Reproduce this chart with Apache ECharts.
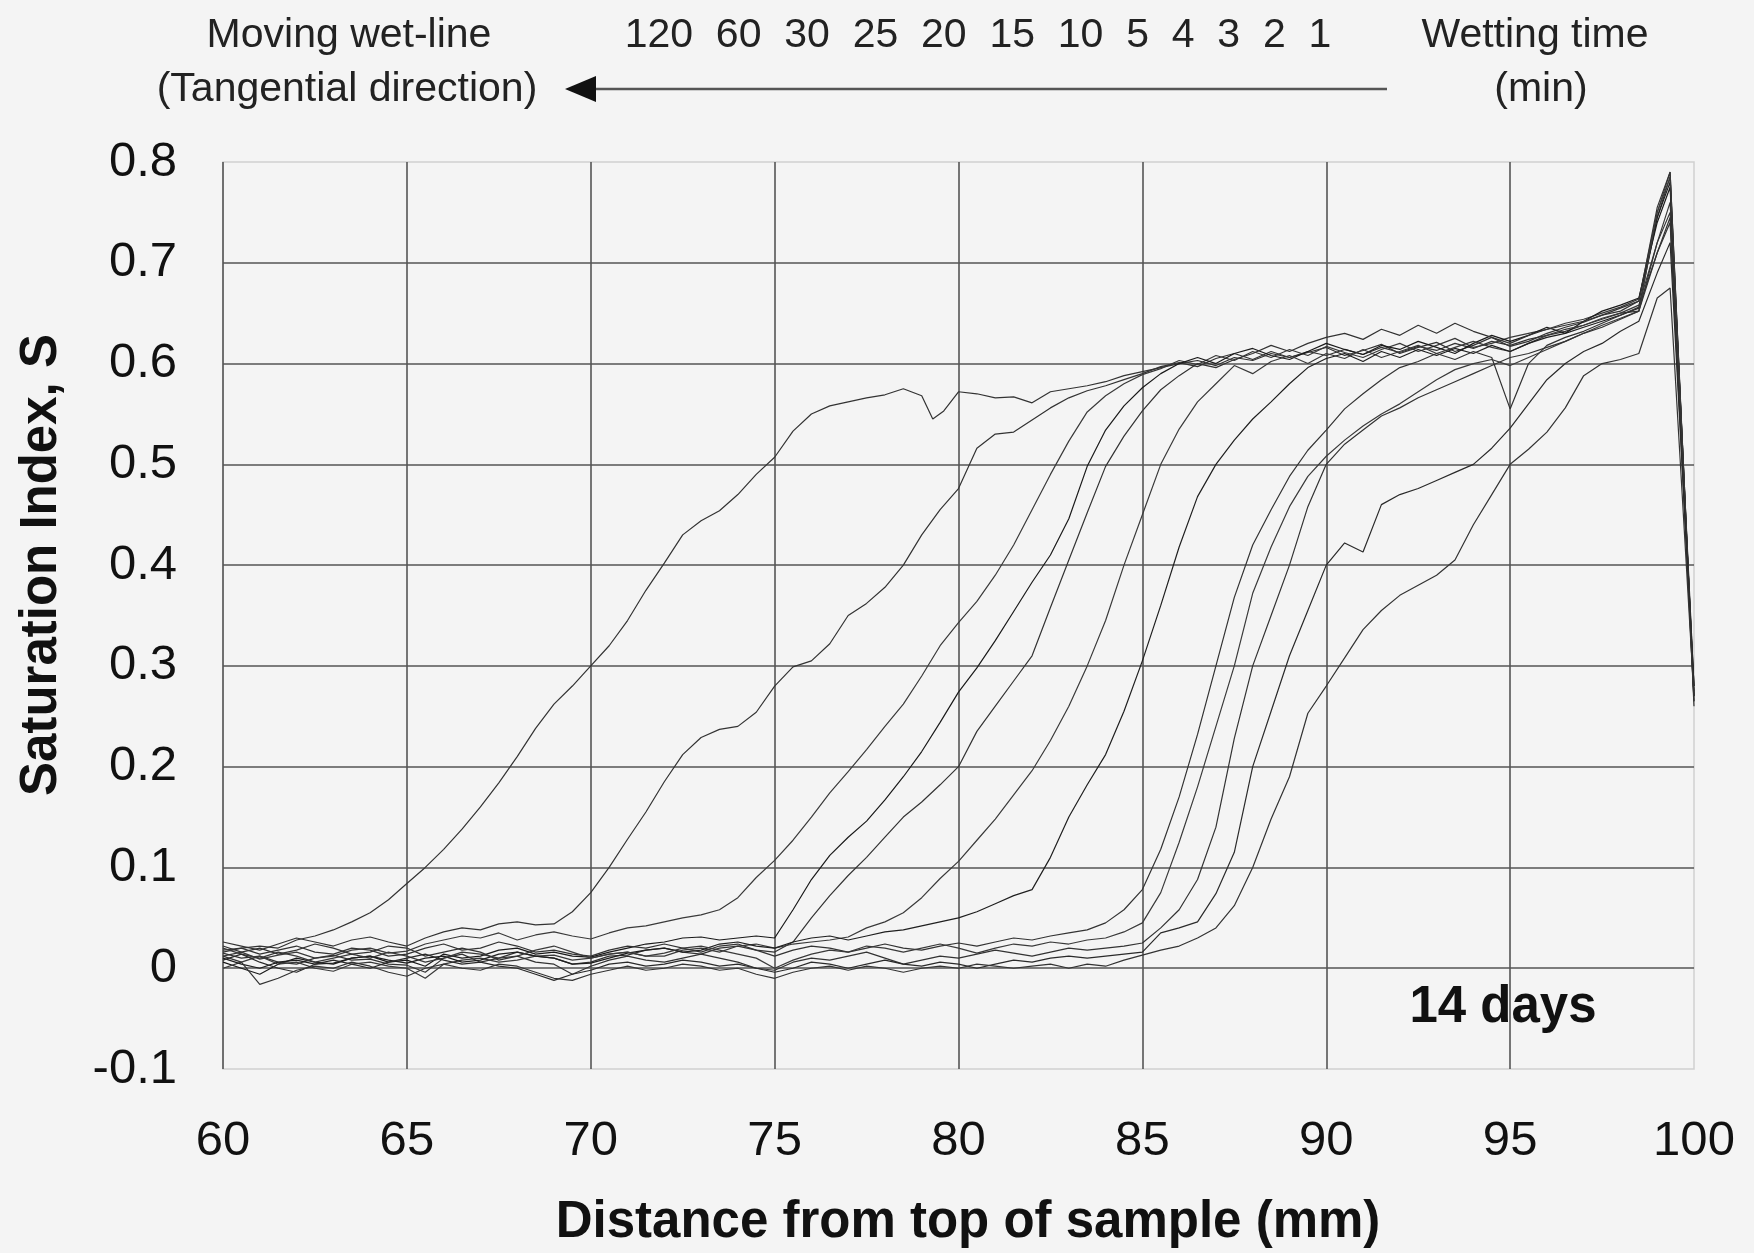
<!DOCTYPE html>
<html>
<head>
<meta charset="utf-8">
<title>Saturation index profiles, 14 days</title>
<script src="https://cdn.jsdelivr.net/npm/echarts@6/dist/echarts.min.js"></script>
<style>
  html, body { margin: 0; padding: 0; background: #f4f4f4; }
  #chart { width: 1754px; height: 1253px; }
</style>
</head>
<body>
<div id="chart"></div>
<script>
  // wetting times (min), one profile each, left (longest) to right (shortest)
  var wetTimes = [120, 60, 30, 25, 20, 15, 10, 5, 4, 3, 2, 1]

  // [distance mm, saturation index S]
  var t120 = [[60,0.018],[60.5,0.02],[61,0.022],[61.5,0.02],[62,0.028],[62.5,0.032],[63,0.038],[63.5,0.046],[64,0.055],[64.5,0.068],[65,0.084],[65.5,0.1],[66,0.118],[66.5,0.138],[67,0.16],[67.5,0.184],[68,0.21],[68.5,0.238],[69,0.262],[69.5,0.28],[70,0.3],[70.5,0.32],[71,0.345],[71.5,0.375],[72,0.402],[72.5,0.43],[73,0.444],[73.5,0.454],[74,0.47],[74.5,0.49],[75,0.507],[75.5,0.533],[76,0.55],[76.5,0.558],[77,0.562],[77.5,0.566],[78,0.569],[78.5,0.575],[79,0.568],[79.3,0.545],[79.6,0.553],[80,0.572],[80.5,0.57],[81,0.566],[81.5,0.567],[82,0.561],[82.5,0.572],[83,0.575],[83.5,0.578],[84,0.582],[84.5,0.588],[85,0.592],[85.5,0.596],[86,0.6],[86.5,0.603],[87,0.598],[87.5,0.606],[88,0.603],[88.5,0.61],[89,0.606],[89.5,0.612],[90,0.608],[90.5,0.614],[91,0.609],[91.5,0.616],[92,0.611],[92.5,0.617],[93,0.613],[93.5,0.62],[94,0.615],[94.5,0.622],[95,0.618],[95.5,0.624],[96,0.628],[96.5,0.632],[97,0.638],[97.5,0.644],[98,0.65],[98.5,0.652],[99,0.71],[99.35,0.745],[100,0.27]]
  var t60 = [[60,0.026],[60.5,0.022],[61,0.018],[61.5,0.024],[62,0.03],[62.5,0.026],[63,0.022],[63.5,0.028],[64,0.031],[64.5,0.026],[65,0.022],[65.5,0.03],[66,0.036],[66.5,0.04],[67,0.038],[67.5,0.044],[68,0.046],[68.5,0.043],[69,0.044],[69.5,0.056],[70,0.075],[70.5,0.1],[71,0.128],[71.5,0.155],[72,0.185],[72.5,0.212],[73,0.229],[73.5,0.237],[74,0.24],[74.5,0.254],[75,0.28],[75.5,0.299],[76,0.305],[76.5,0.322],[77,0.35],[77.5,0.362],[78,0.378],[78.5,0.4],[79,0.43],[79.5,0.455],[80,0.476],[80.5,0.516],[81,0.53],[81.5,0.532],[82,0.544],[82.5,0.556],[83,0.566],[83.5,0.573],[84,0.578],[84.5,0.584],[85,0.59],[85.5,0.597],[86,0.601],[86.5,0.597],[87,0.605],[87.5,0.61],[88,0.604],[88.5,0.612],[89,0.606],[89.5,0.611],[90,0.616],[90.5,0.608],[91,0.613],[91.5,0.619],[92,0.61],[92.5,0.616],[93,0.621],[93.5,0.612],[94,0.618],[94.5,0.626],[95,0.617],[95.5,0.622],[96,0.63],[96.5,0.636],[97,0.641],[97.5,0.648],[98,0.652],[98.5,0.662],[99,0.745],[99.35,0.785],[100,0.26]]
  var t30 = [[60,0.012],[60.5,0.016],[61,0.009],[61.5,0.013],[62,0.016],[62.5,0.01],[63,0.012],[63.5,0.018],[64,0.02],[64.5,0.015],[65,0.017],[65.5,0.024],[66,0.028],[66.5,0.032],[67,0.03],[67.5,0.035],[68,0.028],[68.5,0.033],[69,0.036],[69.5,0.032],[70,0.029],[70.5,0.035],[71,0.04],[71.5,0.042],[72,0.046],[72.5,0.05],[73,0.053],[73.5,0.058],[74,0.07],[74.5,0.09],[75,0.107],[75.5,0.127],[76,0.15],[76.5,0.174],[77,0.195],[77.5,0.217],[78,0.24],[78.5,0.262],[79,0.29],[79.5,0.32],[80,0.343],[80.5,0.364],[81,0.39],[81.5,0.42],[82,0.455],[82.5,0.49],[83,0.523],[83.5,0.552],[84,0.568],[84.5,0.58],[85,0.589],[85.5,0.595],[86,0.603],[86.5,0.599],[87,0.608],[87.5,0.603],[88,0.612],[88.5,0.606],[89,0.614],[89.5,0.608],[90,0.617],[90.5,0.611],[91,0.606],[91.5,0.614],[92,0.62],[92.5,0.612],[93,0.618],[93.5,0.625],[94,0.616],[94.5,0.62],[95,0.626],[95.5,0.63],[96,0.634],[96.5,0.64],[97,0.644],[97.5,0.65],[98,0.656],[98.5,0.664],[99,0.75],[99.35,0.79],[100,0.265]]
  var t25 = [[60,0.006],[60.5,0.0],[61,-0.006],[61.5,0.004],[62,0.01],[62.5,0.006],[63,0.004],[63.5,0.01],[64,0.012],[64.5,0.006],[65,0.008],[65.5,0.002],[66,0.014],[66.5,0.01],[67,0.012],[67.5,0.018],[68,0.02],[68.5,0.014],[69,0.016],[69.5,0.012],[70,0.011],[70.5,0.016],[71,0.02],[71.5,0.024],[72,0.026],[72.5,0.03],[73,0.031],[73.5,0.028],[74,0.03],[74.5,0.032],[75,0.03],[75.5,0.058],[76,0.088],[76.5,0.112],[77,0.13],[77.5,0.146],[78,0.167],[78.5,0.19],[79,0.215],[79.5,0.244],[80,0.274],[80.5,0.298],[81,0.325],[81.5,0.354],[82,0.383],[82.5,0.41],[83,0.446],[83.5,0.498],[84,0.534],[84.5,0.558],[85,0.576],[85.5,0.59],[86,0.6],[86.5,0.606],[87,0.6],[87.5,0.61],[88,0.615],[88.5,0.608],[89,0.604],[89.5,0.612],[90,0.62],[90.5,0.614],[91,0.609],[91.5,0.618],[92,0.614],[92.5,0.622],[93,0.616],[93.5,0.61],[94,0.62],[94.5,0.628],[95,0.622],[95.5,0.628],[96,0.636],[96.5,0.63],[97,0.642],[97.5,0.652],[98,0.658],[98.5,0.665],[99,0.74],[99.35,0.775],[100,0.28]]
  var t20 = [[60,0.015],[60.5,0.01],[61,0.012],[61.5,0.006],[62,0.004],[62.5,0.01],[63,0.013],[63.5,0.008],[64,0.009],[64.5,0.004],[65,0.003],[65.5,-0.004],[66,0.01],[66.5,0.014],[67,0.006],[67.5,0.01],[68,0.016],[68.5,0.012],[69,0.01],[69.5,0.004],[70,0.006],[70.5,0.012],[71,0.013],[71.5,0.018],[72,0.02],[72.5,0.016],[73,0.014],[73.5,0.02],[74,0.022],[74.5,0.018],[75,0.016],[75.5,0.026],[76,0.05],[76.5,0.072],[77,0.092],[77.5,0.11],[78,0.13],[78.5,0.15],[79,0.165],[79.5,0.182],[80,0.2],[80.5,0.235],[81,0.26],[81.5,0.285],[82,0.31],[82.5,0.358],[83,0.405],[83.5,0.452],[84,0.498],[84.5,0.528],[85,0.553],[85.5,0.574],[86,0.588],[86.5,0.6],[87,0.596],[87.5,0.604],[88,0.61],[88.5,0.618],[89,0.612],[89.5,0.62],[90,0.626],[90.5,0.63],[91,0.624],[91.5,0.634],[92,0.628],[92.5,0.638],[93,0.63],[93.5,0.64],[94,0.632],[94.5,0.626],[95,0.62],[95.5,0.628],[96,0.634],[96.5,0.638],[97,0.642],[97.5,0.648],[98,0.655],[98.5,0.662],[99,0.755],[99.35,0.79],[100,0.27]]
  var t15 = [[60,0.0],[60.5,0.006],[61,0.012],[61.5,0.004],[62,0.006],[62.5,0.0],[63,-0.003],[63.5,0.004],[64,0.006],[64.5,0.002],[65,0.0],[65.5,-0.01],[66,0.004],[66.5,0.008],[67,0.01],[67.5,0.006],[68,0.008],[68.5,0.012],[69,0.013],[69.5,0.008],[70,0.01],[70.5,0.014],[71,0.016],[71.5,0.012],[72,0.012],[72.5,0.018],[73,0.02],[73.5,0.016],[74,0.022],[74.5,0.024],[75,0.02],[75.5,0.024],[76,0.026],[76.5,0.028],[77,0.031],[77.5,0.04],[78,0.046],[78.5,0.055],[79,0.07],[79.5,0.089],[80,0.106],[80.5,0.127],[81,0.148],[81.5,0.172],[82,0.196],[82.5,0.226],[83,0.26],[83.5,0.3],[84,0.345],[84.5,0.4],[85,0.45],[85.5,0.5],[86,0.535],[86.5,0.562],[87,0.58],[87.5,0.598],[88,0.59],[88.5,0.602],[89,0.608],[89.5,0.6],[90,0.61],[90.5,0.605],[91,0.614],[91.5,0.606],[92,0.612],[92.5,0.618],[93,0.61],[93.5,0.616],[94,0.622],[94.5,0.616],[95,0.612],[95.5,0.62],[96,0.628],[96.5,0.634],[97,0.638],[97.5,0.645],[98,0.65],[98.5,0.658],[99,0.72],[99.35,0.76],[100,0.275]]
  var t10 = [[60,0.01],[60.5,0.004],[61,0.0],[61.5,0.006],[62,0.008],[62.5,0.004],[63,0.005],[63.5,0.01],[64,0.012],[64.5,0.008],[65,0.005],[65.5,0.01],[66,0.012],[66.5,0.006],[67,0.008],[67.5,0.014],[68,0.016],[68.5,0.012],[69,0.01],[69.5,0.004],[70,0.005],[70.5,0.01],[71,0.015],[71.5,0.018],[72,0.02],[72.5,0.016],[73,0.018],[73.5,0.024],[74,0.026],[74.5,0.022],[75,0.02],[75.5,0.026],[76,0.03],[76.5,0.032],[77,0.028],[77.5,0.032],[78,0.036],[78.5,0.038],[79,0.042],[79.5,0.046],[80,0.05],[80.5,0.056],[81,0.064],[81.5,0.072],[82,0.078],[82.5,0.11],[83,0.15],[83.5,0.182],[84,0.212],[84.5,0.255],[85,0.305],[85.5,0.36],[86,0.418],[86.5,0.468],[87,0.5],[87.5,0.524],[88,0.545],[88.5,0.562],[89,0.58],[89.5,0.596],[90,0.605],[90.5,0.61],[91,0.602],[91.5,0.612],[92,0.606],[92.5,0.614],[93,0.608],[93.5,0.615],[94,0.61],[94.5,0.618],[95,0.612],[95.5,0.62],[96,0.626],[96.5,0.63],[97,0.636],[97.5,0.642],[98,0.648],[98.5,0.655],[99,0.745],[99.35,0.78],[100,0.27]]
  var t5 = [[60,0.016],[60.5,0.02],[61,0.014],[61.5,0.018],[62,0.022],[62.5,0.016],[63,0.014],[63.5,0.02],[64,0.018],[64.5,0.012],[65,0.014],[65.5,0.02],[66,0.024],[66.5,0.018],[67,0.02],[67.5,0.026],[68,0.022],[68.5,0.016],[69,0.018],[69.5,0.014],[70,0.012],[70.5,0.018],[71,0.022],[71.5,0.02],[72,0.024],[72.5,0.02],[73,0.016],[73.5,0.022],[74,0.024],[74.5,0.018],[75,0.012],[75.5,0.018],[76,0.022],[76.5,0.02],[77,0.016],[77.5,0.02],[78,0.024],[78.5,0.02],[79,0.018],[79.5,0.022],[80,0.025],[80.5,0.022],[81,0.026],[81.5,0.03],[82,0.028],[82.5,0.032],[83,0.035],[83.5,0.038],[84,0.045],[84.5,0.058],[85,0.078],[85.5,0.118],[86,0.17],[86.5,0.232],[87,0.3],[87.5,0.368],[88,0.42],[88.5,0.455],[89,0.488],[89.5,0.514],[90,0.534],[90.5,0.555],[91,0.57],[91.5,0.584],[92,0.596],[92.5,0.602],[93,0.61],[93.5,0.604],[94,0.612],[94.5,0.606],[95,0.555],[95.5,0.6],[96,0.618],[96.5,0.626],[97,0.632],[97.5,0.64],[98,0.648],[98.5,0.656],[99,0.71],[99.35,0.74],[100,0.265]]
  var t4 = [[60,0.02],[60.5,0.014],[61,0.01],[61.5,0.016],[62,0.012],[62.5,0.006],[63,0.01],[63.5,0.014],[64,0.01],[64.5,0.016],[65,0.012],[65.5,0.006],[66,0.01],[66.5,0.016],[67,0.014],[67.5,0.01],[68,0.012],[68.5,0.018],[69,0.022],[69.5,0.016],[70,0.01],[70.5,0.014],[71,0.016],[71.5,0.012],[72,0.015],[72.5,0.02],[73,0.022],[73.5,0.018],[74,0.014],[74.5,0.01],[75,0.0],[75.5,0.008],[76,0.014],[76.5,0.018],[77,0.016],[77.5,0.022],[78,0.02],[78.5,0.016],[79,0.02],[79.5,0.024],[80,0.02],[80.5,0.015],[81,0.02],[81.5,0.024],[82,0.022],[82.5,0.026],[83,0.024],[83.5,0.028],[84,0.03],[84.5,0.036],[85,0.045],[85.5,0.075],[86,0.125],[86.5,0.18],[87,0.24],[87.5,0.3],[88,0.372],[88.5,0.418],[89,0.458],[89.5,0.488],[90,0.508],[90.5,0.524],[91,0.538],[91.5,0.55],[92,0.56],[92.5,0.572],[93,0.584],[93.5,0.594],[94,0.6],[94.5,0.604],[95,0.598],[95.5,0.606],[96,0.614],[96.5,0.622],[97,0.63],[97.5,0.638],[98,0.645],[98.5,0.652],[99,0.75],[99.35,0.785],[100,0.27]]
  var t3 = [[60,0.022],[60.5,0.016],[61,0.02],[61.5,0.014],[62,0.018],[62.5,0.024],[63,0.02],[63.5,0.014],[64,0.016],[64.5,0.022],[65,0.02],[65.5,0.012],[66,0.016],[66.5,0.02],[67,0.016],[67.5,0.008],[68,0.012],[68.5,0.006],[69,0.004],[69.5,-0.006],[70,0.002],[70.5,0.008],[71,0.012],[71.5,0.008],[72,0.006],[72.5,0.01],[73,0.014],[73.5,0.01],[74,0.006],[74.5,0.0],[75,-0.002],[75.5,0.006],[76,0.01],[76.5,0.008],[77,0.012],[77.5,0.016],[78,0.01],[78.5,0.004],[79,0.008],[79.5,0.012],[80,0.01],[80.5,0.014],[81,0.018],[81.5,0.015],[82,0.012],[82.5,0.016],[83,0.02],[83.5,0.018],[84,0.02],[84.5,0.022],[85,0.025],[85.5,0.04],[86,0.058],[86.5,0.088],[87,0.14],[87.5,0.228],[88,0.3],[88.5,0.35],[89,0.4],[89.5,0.458],[90,0.5],[90.5,0.52],[91,0.534],[91.5,0.548],[92,0.556],[92.5,0.566],[93,0.574],[93.5,0.582],[94,0.59],[94.5,0.598],[95,0.606],[95.5,0.61],[96,0.616],[96.5,0.622],[97,0.63],[97.5,0.636],[98,0.644],[98.5,0.652],[99,0.72],[99.35,0.75],[100,0.28]]
  var t2 = [[60,0.008],[60.5,0.014],[61,0.006],[61.5,0.0],[62,-0.004],[62.5,0.004],[63,0.008],[63.5,0.004],[64,0.0],[64.5,0.006],[65,0.01],[65.5,0.014],[66,0.008],[66.5,0.004],[67,0.006],[67.5,0.002],[68,0.0],[68.5,-0.006],[69,-0.012],[69.5,-0.006],[70,-0.002],[70.5,0.004],[71,0.006],[71.5,0.002],[72,0.004],[72.5,0.008],[73,0.006],[73.5,0.002],[74,0.004],[74.5,0.0],[75,-0.004],[75.5,0.0],[76,0.006],[76.5,0.004],[77,0.0],[77.5,0.004],[78,0.008],[78.5,0.004],[79,0.002],[79.5,0.006],[80,0.004],[80.5,0.0],[81,0.004],[81.5,0.008],[82,0.006],[82.5,0.01],[83,0.012],[83.5,0.01],[84,0.012],[84.5,0.014],[85,0.016],[85.5,0.035],[86,0.04],[86.5,0.046],[87,0.074],[87.5,0.115],[88,0.2],[88.5,0.255],[89,0.31],[89.5,0.355],[90,0.4],[90.5,0.422],[91,0.413],[91.5,0.46],[92,0.47],[92.5,0.476],[93,0.484],[93.5,0.492],[94,0.5],[94.5,0.516],[95,0.536],[95.5,0.56],[96,0.584],[96.5,0.6],[97,0.612],[97.5,0.62],[98,0.632],[98.5,0.642],[99,0.69],[99.35,0.72],[100,0.28]]
  var t1 = [[60,0.012],[60.5,0.006],[61,-0.016],[61.5,-0.01],[62,-0.002],[62.5,0.002],[63,0.0],[63.5,0.006],[64,0.002],[64.5,-0.004],[65,-0.008],[65.5,0.0],[66,0.004],[66.5,0.0],[67,-0.002],[67.5,0.004],[68,0.002],[68.5,-0.004],[69,-0.01],[69.5,-0.012],[70,-0.006],[70.5,-0.002],[71,0.002],[71.5,-0.002],[72,0.0],[72.5,0.004],[73,0.002],[73.5,-0.002],[74,0.0],[74.5,-0.006],[75,-0.01],[75.5,-0.004],[76,0.0],[76.5,0.002],[77,-0.002],[77.5,0.002],[78,0.0],[78.5,-0.004],[79,0.0],[79.5,0.002],[80,0.0],[80.5,0.004],[81,0.002],[81.5,0.0],[82,0.002],[82.5,0.004],[83,0.0],[83.5,0.004],[84,0.002],[84.5,0.008],[85,0.013],[85.5,0.018],[86,0.022],[86.5,0.03],[87,0.04],[87.5,0.062],[88,0.1],[88.5,0.148],[89,0.19],[89.5,0.253],[90,0.28],[90.5,0.308],[91,0.336],[91.5,0.355],[92,0.37],[92.5,0.38],[93,0.39],[93.5,0.405],[94,0.44],[94.5,0.47],[95,0.5],[95.5,0.515],[96,0.532],[96.5,0.556],[97,0.588],[97.5,0.6],[98,0.604],[98.5,0.61],[99,0.665],[99.35,0.675],[100,0.27]]

  var profiles = [t120, t60, t30, t25, t20, t15, t10, t5, t4, t3, t2, t1]

  var font = '"Liberation Sans", Arial, sans-serif'
  var lineColors = ['#333', '#333', '#3a3a3a', '#1a1a1a', '#333', '#3a3a3a', '#1f1f1f', '#333', '#3a3a3a', '#333', '#2a2a2a', '#333']

  var chart = echarts.init(document.getElementById('chart'))

  var series = profiles.map(function (data, i) {
    return {
      name: wetTimes[i] + ' min',
      type: 'line',
      data: data,
      showSymbol: false,
      silent: true,
      lineStyle: { color: lineColors[i], width: 1.2 }
    }
  })

  var option = {
    backgroundColor: '#f4f4f4',
    animation: false,
    textStyle: { fontFamily: font },
    grid: { left: 223, top: 162, width: 1471, height: 907, show: true, borderColor: '#d0d0d0', borderWidth: 1.5 },
    xAxis: {
      type: 'value',
      min: 60,
      max: 100,
      interval: 5,
      axisLine: { show: false },
      axisTick: { show: false },
      axisLabel: { fontSize: 49, color: '#111', margin: 48, fontFamily: font },
      splitLine: { show: true, showMaxLine: false, lineStyle: { color: '#555', width: 1.6 } }
    },
    yAxis: {
      type: 'value',
      min: -0.1,
      max: 0.8,
      interval: 0.1,
      axisLine: { show: false },
      axisTick: { show: false },
      axisLabel: { fontSize: 49, color: '#111', margin: 46, fontFamily: font },
      splitLine: { show: true, showMinLine: false, showMaxLine: false, lineStyle: { color: '#555', width: 1.6 } }
    },
    graphic: [
      // axis titles
      { type: 'text', x: 968, y: 1223, style: { text: 'Distance from top of sample (mm)', font: 'bold 51px ' + font, fill: '#111', textAlign: 'center', textVerticalAlign: 'middle' } },
      { type: 'text', x: 42, y: 565, rotation: Math.PI / 2, style: { text: 'Saturation Index, S', font: 'bold 51px ' + font, fill: '#111', textAlign: 'center', textVerticalAlign: 'middle' } },
      // wetting-time header
      { type: 'text', x: 349, y: 36, style: { text: 'Moving wet-line', font: '41px ' + font, fill: '#222', textAlign: 'center', textVerticalAlign: 'middle' } },
      { type: 'text', x: 347, y: 90, style: { text: '(Tangential direction)', font: '41px ' + font, fill: '#222', textAlign: 'center', textVerticalAlign: 'middle' } },
      { type: 'text', x: 978, y: 36, style: { text: wetTimes.join('  '), font: '41px ' + font, fill: '#222', textAlign: 'center', textVerticalAlign: 'middle' } },
      { type: 'text', x: 1535, y: 36, style: { text: 'Wetting time', font: '41px ' + font, fill: '#222', textAlign: 'center', textVerticalAlign: 'middle' } },
      { type: 'text', x: 1541, y: 90, style: { text: '(min)', font: '41px ' + font, fill: '#222', textAlign: 'center', textVerticalAlign: 'middle' } },
      { type: 'line', shape: { x1: 1387, y1: 89, x2: 592, y2: 89 }, style: { stroke: '#555', lineWidth: 2.5 } },
      { type: 'polygon', shape: { points: [[565, 89], [596, 76], [596, 102]] }, style: { fill: '#111' } },
      { type: 'text', x: 1503, y: 1008, style: { text: '14 days', font: 'bold 51px ' + font, fill: '#111', textAlign: 'center', textVerticalAlign: 'middle' } }
    ],
    series: series
  }

  chart.setOption(option)
</script>
</body>
</html>
